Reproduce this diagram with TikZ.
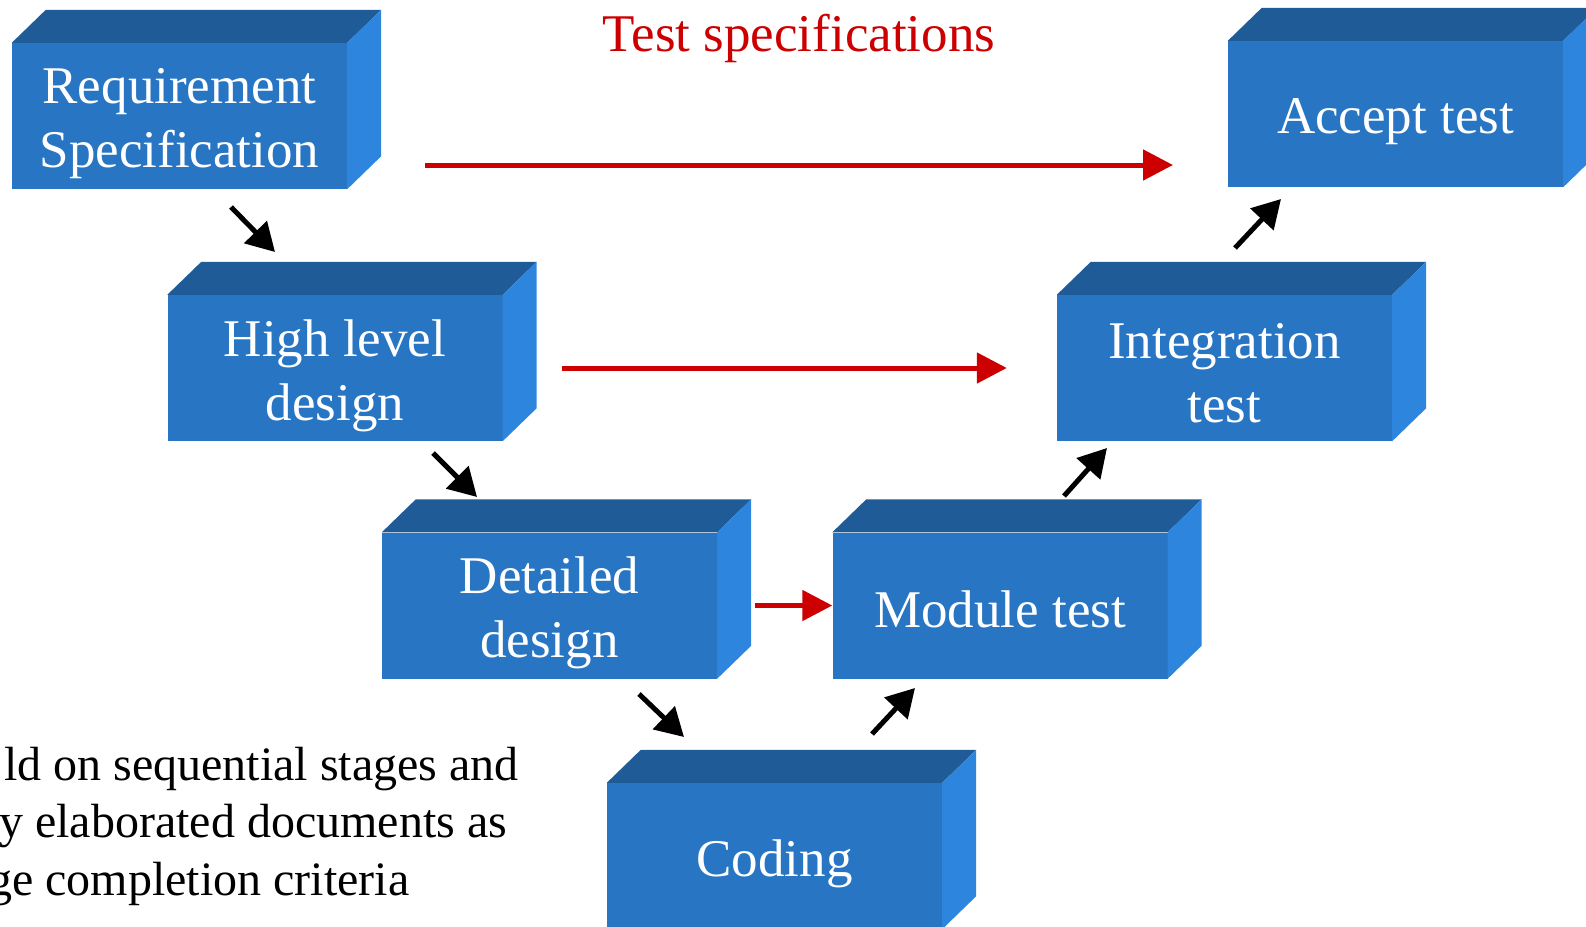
\documentclass[tikz,border=0pt]{standalone}
\usepackage{fontspec}
\setmainfont{Liberation Serif}
\usepackage{xcolor}
\usetikzlibrary{positioning, arrows.meta}

\definecolor{frontblue}{RGB}{39,117,195}
\definecolor{topblue}{RGB}{31,91,151}
\definecolor{sideblue}{RGB}{45,133,222}
\definecolor{specred}{RGB}{204,0,0}

\begin{document}
\begin{tikzpicture}[
        x=1pt, y=-1pt,
        block_style/.style={rectangle, fill=frontblue, inner sep=0pt, minimum width=335pt, minimum height=146pt},
        text_style/.style={text=white, align=center, inner sep=0pt, font=\fontsize{53}{64}\selectfont, yshift=-7.5pt},
        top_style/.style={fill=topblue},
        side_style/.style={fill=sideblue},
        step_arrow/.style={black, line width=5pt, -{Triangle[length=28pt, width=31pt]}},
        spec_arrow/.style={specred, line width=5pt, -{Triangle[length=30pt, width=30pt]}},
        note_style/.style={anchor=base west, inner sep=0pt, font=\fontsize{48}{58}\selectfont}
    ]
        \useasboundingbox (0,0) rectangle (1586,926);

        % Front faces
        \node[block_style] (req) at (179.5,116) {};
        \node[block_style] (hl) at (335,368) {};
        \node[block_style] (dd) at (549.5,605.5) {};
        \node[block_style] (cod) at (774.5,856) {};
        \node[block_style] (mod) at (1000,605.5) {};
        \node[block_style] (integ) at (1224.5,368) {};
        \node[block_style] (acc) at (1395.5,114) {};

        % Top and side faces
        \foreach \b in {req,hl,dd,cod,mod,integ,acc} {
            \fill[top_style] (\b.north west) -- ++(34,-33) -- ([shift={(34,-33)}]\b.north east) -- (\b.north east) -- cycle;
            \fill[side_style] (\b.north east) -- ++(34,-33) -- ([shift={(34,-33)}]\b.south east) -- (\b.south east) -- cycle;
        }

        % Texts
        \node[text_style] (reqtext) at (req) {Requirement\\Specification};
        \node[text_style] (hltext) at (hl) {High level\\design};
        \node[text_style] (ddtext) at (dd) {Detailed\\design};
        \node[text_style] (codtext) at (cod) {Coding};
        \node[text_style, yshift=4pt] (modtext) at (mod) {Module test};
        \node[text_style, yshift=2pt] (integtext) at (integ) {Integration\\test};
        \node[text_style] (acctext) at (acc) {Accept test};

        \node[anchor=base, inner sep=0pt, text=specred, font=\fontsize{53}{64}\selectfont] (title) at (799,51) {Test specifications};

        % Arrow ends
        \coordinate (a1s) at (231,207);
        \coordinate (a1e) at (275,252);
        \coordinate (a2s) at (433,453);
        \coordinate (a2e) at (477,497);
        \coordinate (a3s) at (639,694);
        \coordinate (a3e) at (684,737);
        \coordinate (a4s) at (872,734);
        \coordinate (a4e) at (915,688);
        \coordinate (a5s) at (1064,496);
        \coordinate (a5e) at (1107,448);
        \coordinate (a6s) at (1235,248);
        \coordinate (a6e) at (1281,199);
        \coordinate (r1s) at (425,165);
        \coordinate (r1e) at (1173,165);

        % Stage arrows
        \draw[step_arrow] (a1s) -- (a1e);
        \draw[step_arrow] (a2s) -- (a2e);
        \draw[step_arrow] (a3s) -- (a3e);
        \draw[step_arrow] (a4s) -- (a4e);
        \draw[step_arrow] (a5s) -- (a5e);
        \draw[step_arrow] (a6s) -- (a6e);

        % Test specification arrows
        \draw[spec_arrow] (r1s) -- (r1e);
        \draw[spec_arrow] ([xshift=59pt]hl.east) -- ([xshift=-50pt]integ.west);
        \draw[spec_arrow] ([xshift=38pt]dd.east) -- (mod.west);

        % Note
        \node[note_style] (note1) at (4,780) {ld on sequential stages and};
        \node[note_style] (note2) at (-1,837) {y elaborated documents as};
        \node[note_style] (note3) at (-12,895) {ge completion criteria};
    \end{tikzpicture}
\end{document}
